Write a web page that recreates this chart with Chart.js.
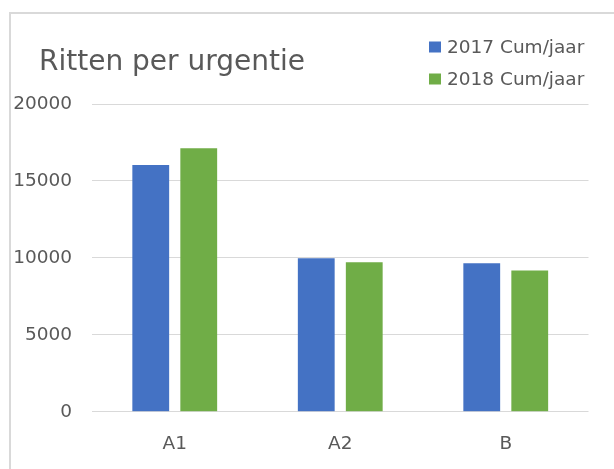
<!DOCTYPE html>
<html>
<head>
<meta charset="utf-8">
<script src="https://cdn.jsdelivr.net/npm/chart.js@4"></script>
<style>
    html, body { margin: 0; padding: 0; background: #ffffff; }
    #wrap { position: relative; width: 614px; height: 469px; overflow: hidden; }
    #frame {
        position: absolute; left: 9px; top: 12px; width: 640px; height: 480px;
        border-left: 2px solid #d9d9d9; border-top: 2px solid #d9d9d9;
    }
    canvas { position: absolute; left: 0; top: 0; }
</style>
</head>
<body>
<div id="wrap">
    <div id="frame"></div>
    <canvas id="grafico" width="614" height="469"></canvas>
</div>
<script>
const titel = "Ritten per urgentie";
const categorieen = ["A1", "A2", "B"];
const reeksLabels = ["2017 Cum/jaar", "2018 Cum/jaar"];
const ritten2017 = [16030, 9970, 9650];
const ritten2018 = [17120, 9710, 9170];
const yTicks = [0, 5000, 10000, 15000, 20000];

const kleuren = ["#4472C4", "#70AD47"];
const tekstKleur = "#595959";
const lettertype = "'DejaVu Sans', sans-serif";

// titel en legenda rechtsboven zelf tekenen
const titelEnLegenda = {
    id: "titelEnLegenda",
    afterDraw(chart) {
        const ctx = chart.ctx;
        ctx.save();
        ctx.fillStyle = tekstKleur;
        ctx.textBaseline = "alphabetic";
        ctx.textAlign = "left";
        ctx.font = "28px " + lettertype;
        ctx.fillText(titel, 39, 70);

        ctx.font = "18.5px " + lettertype;
        chart.data.datasets.forEach((ds, i) => {
            const y = 46.5 + i * 32;
            ctx.fillStyle = ds.backgroundColor;
            ctx.fillRect(429, y - 5, 12, 11);
            ctx.fillStyle = tekstKleur;
            ctx.fillText(ds.label, 447, y + 6);
        });
        ctx.restore();
    }
};

new Chart(document.getElementById("grafico"), {
    type: "bar",
    data: {
        labels: categorieen,
        datasets: [
            {
                label: reeksLabels[0],
                data: ritten2017,
                backgroundColor: kleuren[0]
            },
            {
                label: reeksLabels[1],
                data: ritten2018,
                backgroundColor: kleuren[1]
            }
        ]
    },
    options: {
        responsive: false,
        animation: false,
        categoryPercentage: 0.58,
        barPercentage: 0.767,
        layout: {
            padding: { left: 0, right: 25.5, top: 104, bottom: 0 }
        },
        plugins: {
            legend: { display: false },
            title: { display: false },
            tooltip: { enabled: false }
        },
        scales: {
            x: {
                grid: { display: false },
                border: { display: false },
                ticks: {
                    color: tekstKleur,
                    padding: 13,
                    font: { family: lettertype, size: 18.5 }
                },
                afterFit(scale) { scale.height = 57.3; }
            },
            y: {
                min: 0,
                max: 20000,
                afterBuildTicks(scale) {
                    scale.ticks = yTicks.map(v => ({ value: v }));
                },
                grid: { color: "#d9d9d9", lineWidth: 1, drawTicks: false },
                border: { display: false },
                ticks: {
                    color: tekstKleur,
                    padding: 20,
                    font: { family: lettertype, size: 18.5 },
                    callback: v => String(v)
                },
                afterFit(scale) { scale.width = 92; }
            }
        }
    },
    plugins: [titelEnLegenda]
});
</script>
</body>
</html>
